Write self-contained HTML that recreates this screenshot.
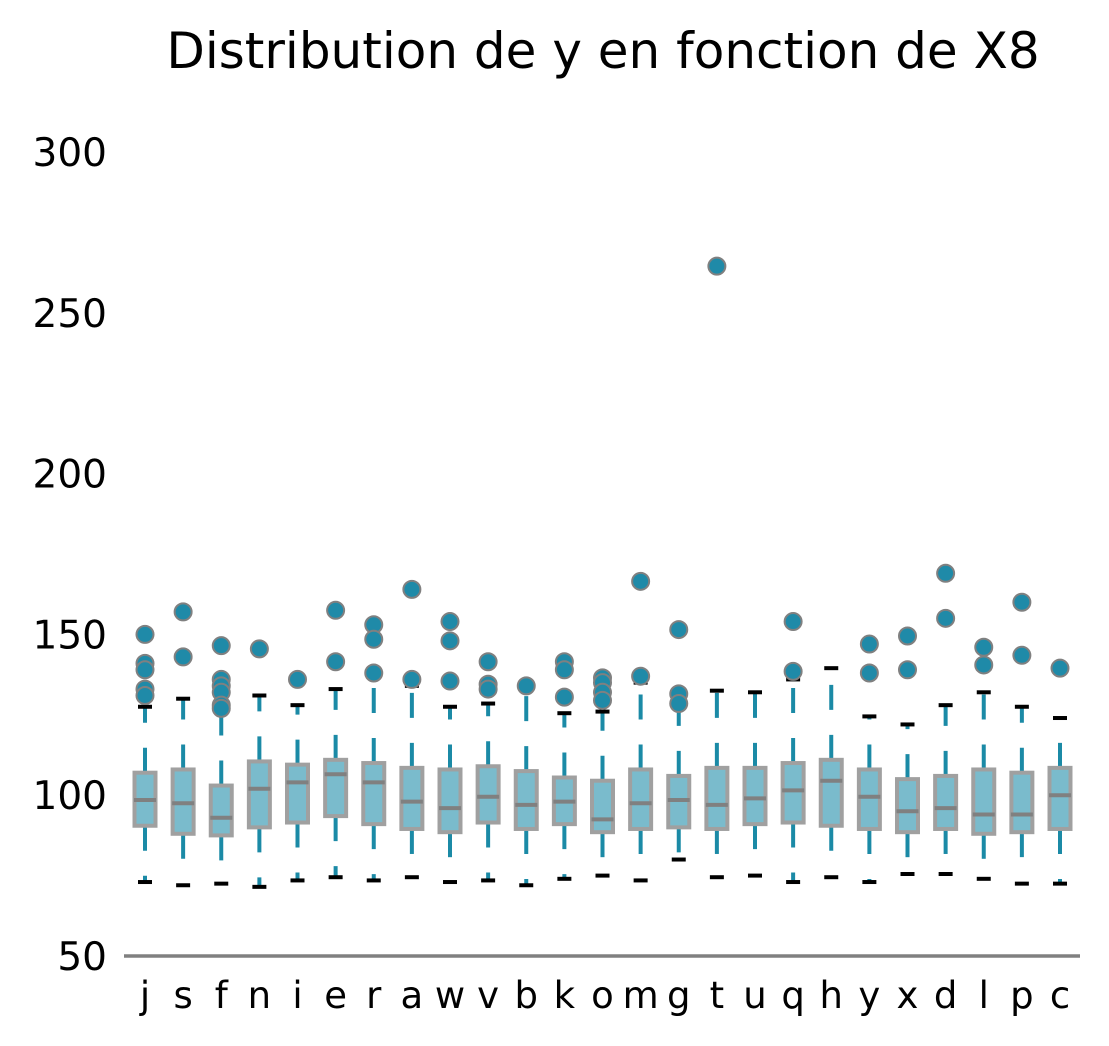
<!DOCTYPE html>
<html><head><meta charset="utf-8"><style>
body{margin:0;background:#fff;}
svg{display:block;font-family:"DejaVu Sans","Liberation Sans",sans-serif;}
</style></head><body>
<svg id="chart" width="1109" height="1046" viewBox="0 0 1109 1046" xmlns="http://www.w3.org/2000/svg">
<text x="603" y="68" font-size="50" text-anchor="middle" fill="#000">Distribution de y en fonction de X8</text>
<g id="yaxis"></g>
<g id="boxes"></g>
<line x1="124" y1="956" x2="1080" y2="956" stroke="#808080" stroke-width="3.5"/>
<g id="xaxis"></g>
</svg>
<script>
const categories = ["j","s","f","n","i","e","r","a","w","v","b","k","o","m","g","t","u","q","h","y","x","d","l","p","c"];
const q1 = [90.5,88,87.5,90,91.5,93.5,91,89.5,88.5,91.5,89.5,91,88.5,89.5,90,89.5,91,91.5,90.5,89.5,88.5,89.5,88,88.5,89.5];
const medians = [98.5,97.5,93,102,104,106.5,104,98,96,99.5,97,98,92.5,97.5,98.5,97,99,101.5,104.5,99.5,95,96,94,94,100];
const q3 = [107,108,103,110.5,109.5,111,110,108.5,108,109,107.5,105.5,104.5,108,106,108.5,108.5,110,111,108,105,106,108,107,108.5];
const whiskLow = [73,72,72.5,71.5,73.5,74.5,73.5,74.5,73,73.5,72,74,75,73.5,80,74.5,75,73,74.5,73,75.5,75.5,74,72.5,72.5];
const whiskHigh = [127.5,130,127,131,128,133,137,134,127.5,128.5,133,125.5,126,135,132,132.5,132,136,139.5,124.5,122,128,132,127.5,124];
const outliers = [[150,141,139,133,131],[157,143],[146.5,136,134,132,128,127],[145.5],[136],[157.5,141.5],[153,148.5,138],[164,136],[154,148,135.5],[141.5,134.5,133],[134],[141.5,139,130.5],[136.5,135,132,129.5],[166.5,137],[151.5,131.5,128.5],[264.5],[],[154,138.5],[],[147,138],[149.5,139],[169,155],[146,140.5],[160,143.5],[139.5]];
const yTicks = [50,100,150,200,250,300];

const NS="http://www.w3.org/2000/svg";
function y(v){return 956-(v-50)*3.216;}
function xp(i){return 145+i*(1060-145)/(categories.length-1);}
function mk(tag,attrs,parent){const e=document.createElementNS(NS,tag);for(const k in attrs)e.setAttribute(k,attrs[k]);parent.appendChild(e);return e;}
const ya=document.getElementById('yaxis'),xa=document.getElementById('xaxis'),bx=document.getElementById('boxes');
yTicks.forEach(t=>{const e=mk('text',{x:107,y:y(t)+14,'font-size':39,'text-anchor':'end',fill:'#000'},ya);e.textContent=t;

});
categories.forEach((c,i)=>{
 const cx=xp(i);
 const t=mk('text',{x:cx,y:1008,'font-size':37,'text-anchor':'middle',fill:'#000'},xa);t.textContent=c;
 
 
 const g=mk('g',{},bx);
 
 
 mk('line',{x1:cx,y1:y(q3[i]),x2:cx,y2:y(whiskHigh[i]),stroke:'#1b8aa6','stroke-width':4,'stroke-dasharray':'25,25'},g);
 mk('line',{x1:cx,y1:y(q1[i]),x2:cx,y2:y(whiskLow[i]),stroke:'#1b8aa6','stroke-width':4,'stroke-dasharray':'25,25'},g);
 mk('line',{x1:cx-7,y1:y(whiskHigh[i]),x2:cx+7,y2:y(whiskHigh[i]),stroke:'#000','stroke-width':4},g);
 mk('line',{x1:cx-7,y1:y(whiskLow[i]),x2:cx+7,y2:y(whiskLow[i]),stroke:'#000','stroke-width':4},g);
 mk('rect',{x:cx-10.5,y:y(q3[i]),width:21,height:y(q1[i])-y(q3[i]),fill:'#7abbcc',stroke:'#a0a0a0','stroke-width':4},g);
 mk('line',{x1:cx-11,y1:y(medians[i]),x2:cx+11,y2:y(medians[i]),stroke:'#808080','stroke-width':4},g);
 outliers[i].forEach(v=>{const o=mk('circle',{cx:cx,cy:y(v),r:8.5,fill:'#1f8aa8',stroke:'#808080','stroke-width':2},g);
  
  });
});
</script>
</body></html>
